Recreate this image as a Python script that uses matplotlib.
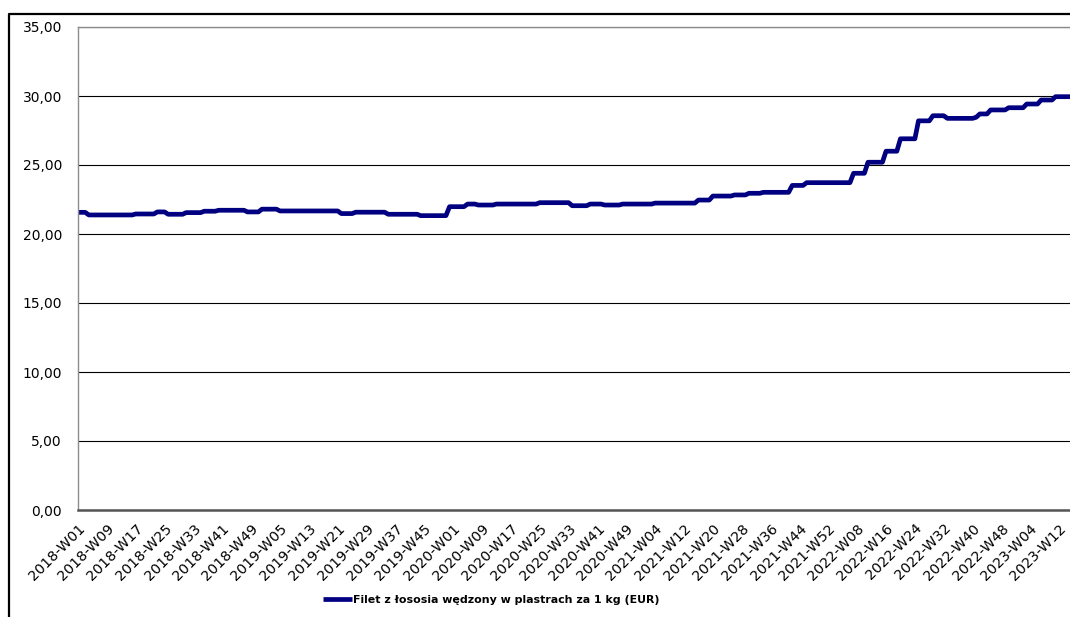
import datetime
import numpy as np
import matplotlib
matplotlib.use("Agg")
import matplotlib.pyplot as plt
from matplotlib.lines import Line2D

# price steps: week index where a level starts, and the level (EUR)
step_start = [0, 3, 16, 22, 25, 30, 35, 39, 47, 51, 56, 73, 77, 86, 95,
              103, 108, 111, 116, 128, 137, 142, 146, 151, 160, 172, 176, 182, 186, 190,
              198, 202, 215, 219, 224, 228, 233, 237, 241, 249, 250, 253, 258, 263, 267, 271]
step_value = [21.57, 21.38, 21.45, 21.60, 21.43, 21.55, 21.65, 21.72, 21.60, 21.80, 21.67, 21.48, 21.58, 21.43, 21.33,
              21.98, 22.17, 22.10, 22.17, 22.27, 22.05, 22.17, 22.10, 22.17, 22.24, 22.46, 22.75, 22.83, 22.95, 23.02,
              23.52, 23.72, 24.40, 25.20, 26.00, 26.90, 28.20, 28.57, 28.38, 28.46, 28.70, 28.99, 29.15, 29.42, 29.71, 29.95]
n_weeks = 276  # 2018-W01 .. 2023-W15

series_name = "Filet z łososia wędzony w plastrach za 1 kg (EUR)"
y_ticks = [0, 5, 10, 15, 20, 25, 30, 35]

# weekly labels in ISO weeks
start = datetime.date(2018, 1, 1)
week_labels = []
for i in range(n_weeks):
    yr, wk, _ = (start + datetime.timedelta(weeks=i)).isocalendar()
    week_labels.append(f"{yr}-W{wk:02d}")

durations = np.diff(step_start + [n_weeks])
values = np.repeat(step_value, durations)

W, H = 1070, 617
fig = plt.figure(figsize=(W / 100, H / 100), dpi=100)
ax = fig.add_axes([78 / W, (H - 510) / H, (1070 - 78) / W, (510 - 27) / H])

ax.plot(np.arange(n_weeks), values, color="#000080", lw=3.4,
        solid_joinstyle="round", solid_capstyle="butt", label=series_name)

ax.set_xlim(0, n_weeks - 1)
ax.set_ylim(0, 35)
ax.set_yticks(y_ticks)
ax.set_yticklabels([f"{v:.2f}".replace(".", ",") for v in y_ticks], fontsize=10)
ax.grid(axis="y", color="black", lw=0.8)
ax.set_axisbelow(True)

xt = np.arange(0, n_weeks, 8)
ax.set_xticks(xt)
ax.set_xticklabels([week_labels[i] for i in xt], rotation=45, ha="right",
                   rotation_mode="anchor", fontsize=10.3)
ax.tick_params(axis="x", length=0, pad=8)
ax.tick_params(axis="y", length=0, pad=11.5)

for s in ["top", "left"]:
    ax.spines[s].set_color("#8c8c8c")
    ax.spines[s].set_linewidth(1.0)
ax.spines["right"].set_visible(False)
ax.spines["bottom"].set_color("#555555")
ax.spines["bottom"].set_linewidth(1.8)

fig.legend(loc="center left", bbox_to_anchor=(318 / W, 1 - 600 / H), frameon=False,
           handlelength=2.6, handletextpad=0.1, borderpad=0,
           prop={"weight": "bold", "size": 7.9})

# chart area border (left and top visible)
fig.add_artist(Line2D([8.5 / W, 8.5 / W, 1.0], [0, 1 - 14 / H, 1 - 14 / H],
                      color="black", lw=1.6))

fig.savefig("out.png", dpi=100)
